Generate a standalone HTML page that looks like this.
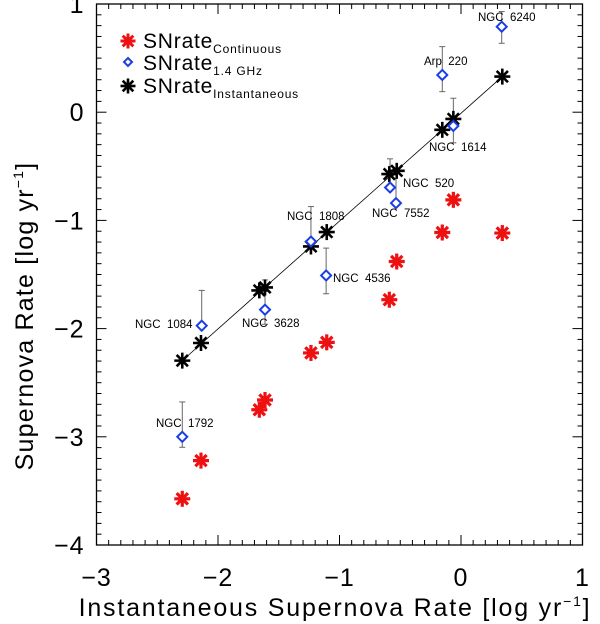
<!DOCTYPE html>
<html><head><meta charset="utf-8">
<style>
html,body{margin:0;padding:0;background:#fff;}
svg{display:block;font-family:"Liberation Sans",sans-serif;}
</style></head>
<body>
<svg id="chart" width="600" height="624" viewBox="0 0 600 624">
<g id="axes"></g>
<g id="marks"></g>
<g id="legend">
  <g>
    <g id="lg1"></g>
    <text x="143" y="48" font-size="21" fill="#000" letter-spacing="0.8">SNrate<tspan font-size="12" dy="5">Continuous</tspan></text>
  </g>
  <g>
    <g id="lg2"></g>
    <text x="143" y="70" font-size="21" fill="#000" letter-spacing="0.8">SNrate<tspan font-size="12" dy="5">1.4 GHz</tspan></text>
  </g>
  <g>
    <g id="lg3"></g>
    <text x="143" y="93" font-size="21" fill="#000" letter-spacing="0.8">SNrate<tspan font-size="12" dy="5">Instantaneous</tspan></text>
  </g>
</g>
<text x="335" y="616" font-size="25" letter-spacing="1.8" text-anchor="middle" fill="#000">Instantaneous Supernova Rate [log yr<tspan font-size="14" dy="-10">−1</tspan><tspan dy="10">]</tspan></text>
<text transform="translate(33,316) rotate(-90)" font-size="25" letter-spacing="1.2" text-anchor="middle" fill="#000">Supernova Rate [log yr<tspan font-size="14" dy="-10">−1</tspan><tspan dy="10">]</tspan></text>
</svg>
<script>
const xInst = [-2.294,-2.140,-1.660,-1.613,-1.235,-1.105,-0.590,-0.529,-0.154,-0.063,0.340];
const yInst = [-2.296,-2.133,-1.647,-1.620,-1.241,-1.108,-0.572,-0.542,-0.163,-0.062,0.329];
const yCont = [-3.573,-3.22,-2.75,-2.66,-2.225,-2.127,-1.733,-1.38,-1.112,-0.81,-1.117];
const radioNames = ["NGC 1792","NGC 1084","NGC 3628","NGC 1808","NGC 4536","NGC 520","NGC 7552","Arp 220","NGC 1614","NGC 6240"];
const radioX = [-2.294,-2.134,-1.613,-1.235,-1.110,-0.584,-0.535,-0.154,-0.063,0.335];
const radioY = [-3.0,-1.973,-1.825,-1.195,-1.509,-0.696,-0.840,0.344,-0.127,0.790];
const radioErrHi = [-2.678,-1.647,-1.55,-0.872,-1.256,-0.431,-0.56,0.606,0.129,0.93];
const radioErrLo = [-3.097,-1.973,-1.96,-1.195,-1.678,-0.696,-0.840,0.190,-0.283,0.637];
const labelX = [156,135,242,287,333,403,372,424,429,478];
const labelY = [427,328,327,220,282,187,217,65,151,21];
const xTicks = [-3,-2,-1,0,1];
const yTicks = [1,0,-1,-2,-3,-4];

const NS="http://www.w3.org/2000/svg";
const X0=96.5,X1=582.5,Y0=4,Y1=545;
function sx(v){return X0+(v+3)*(X1-X0)/4;}
function sy(v){return Y0+(1-v)*(Y1-Y0)/5;}
function mk(tag,attrs,parent){const e=document.createElementNS(NS,tag);for(const k in attrs)e.setAttribute(k,attrs[k]);parent.appendChild(e);return e;}
const axes=document.getElementById('axes'), marks=document.getElementById('marks');

const frame=mk('rect',{x:X0,y:Y0,width:X1-X0,height:Y1-Y0,fill:'none',stroke:'#000','stroke-width':1.3},axes);


for(let i=0;i<=40;i++){const v=-3+i*0.1;const px=sx(v);const major=(i%10===0);const L=major?10:5;
  const t1=mk('line',{x1:px,x2:px,y1:Y1,y2:Y1-L,stroke:'#000','stroke-width':1},axes);
  
  
  const t2=mk('line',{x1:px,x2:px,y1:Y0,y2:Y0+L,stroke:'#000','stroke-width':1},axes);
  
  }
for(let i=0;i<=50;i++){const v=1-i*0.1;const py=sy(v);const major=(i%10===0);const L=major?10:5;
  const t1=mk('line',{x1:X0,x2:X0+L,y1:py,y2:py,stroke:'#000','stroke-width':1},axes);
  
  
  const t2=mk('line',{x1:X1,x2:X1-L,y1:py,y2:py,stroke:'#000','stroke-width':1},axes);
  
  }
xTicks.forEach(v=>{const t=mk('text',{x:sx(v),y:586,'font-size':25,'text-anchor':'middle',fill:'#000','letter-spacing':1},axes);t.textContent=(v<0?'\u2212'+(-v):String(v));
  
  });
yTicks.forEach(v=>{const t=mk('text',{x:X0-12,y:sy(v)+9,'font-size':25,'text-anchor':'end',fill:'#000','letter-spacing':1},axes);t.textContent=(v<0?'\u2212'+(-v):String(v));
  
  });

function star(g,cx,cy,r,color,w){for(let k=0;k<4;k++){const a=k*Math.PI/4;mk('line',{x1:cx-r*Math.cos(a),y1:cy-r*Math.sin(a),x2:cx+r*Math.cos(a),y2:cy+r*Math.sin(a),stroke:color,'stroke-width':w},g);}}
function diamond(g,cx,cy,r){mk('polygon',{points:`${cx},${cy-r} ${cx+r},${cy} ${cx},${cy+r} ${cx-r},${cy}`,fill:'#fff',stroke:'#1a3ee6','stroke-width':2},g);}

const fl=mk('line',{x1:sx(xInst[0]),y1:sy(yInst[0]),x2:sx(xInst[xInst.length-1]),y2:sy(yInst[yInst.length-1]),stroke:'#000','stroke-width':0.8},marks);



radioX.forEach((x,i)=>{const g=mk('g',{},marks);
  
  
  const px=sx(x),a=sy(radioErrHi[i]),b=sy(radioErrLo[i]);
  mk('line',{x1:px,x2:px,y1:a,y2:b,stroke:'#666','stroke-width':1},g);
  mk('line',{x1:px-3,x2:px+3,y1:a,y2:a,stroke:'#666','stroke-width':1},g);
  mk('line',{x1:px-3,x2:px+3,y1:b,y2:b,stroke:'#666','stroke-width':1},g);});

yCont.forEach((y,i)=>{const g=mk('g',{},marks);
  
  
  star(g,sx(xInst[i]),sy(y),8,'#ee1111',3.2);});
yInst.forEach((y,i)=>{const g=mk('g',{},marks);
  
  
  star(g,sx(xInst[i]),sy(y),8,'#000',2.6);});
radioY.forEach((y,i)=>{const g=mk('g',{},marks);
  
  
  diamond(g,sx(radioX[i]),sy(y),5);});
radioNames.forEach((n,i)=>{const t=mk('text',{x:labelX[i],y:labelY[i],'font-size':11.5,fill:'#000'},marks);
  t.textContent=n.replace(' ','\u00a0\u00a0');
  
  });

star(document.getElementById('lg1'),128,41,7.5,'#ee1111',3);
diamond(document.getElementById('lg2'),128,62,4);
star(document.getElementById('lg3'),128,86,7.5,'#000',2.6);
</script>
</body></html>
